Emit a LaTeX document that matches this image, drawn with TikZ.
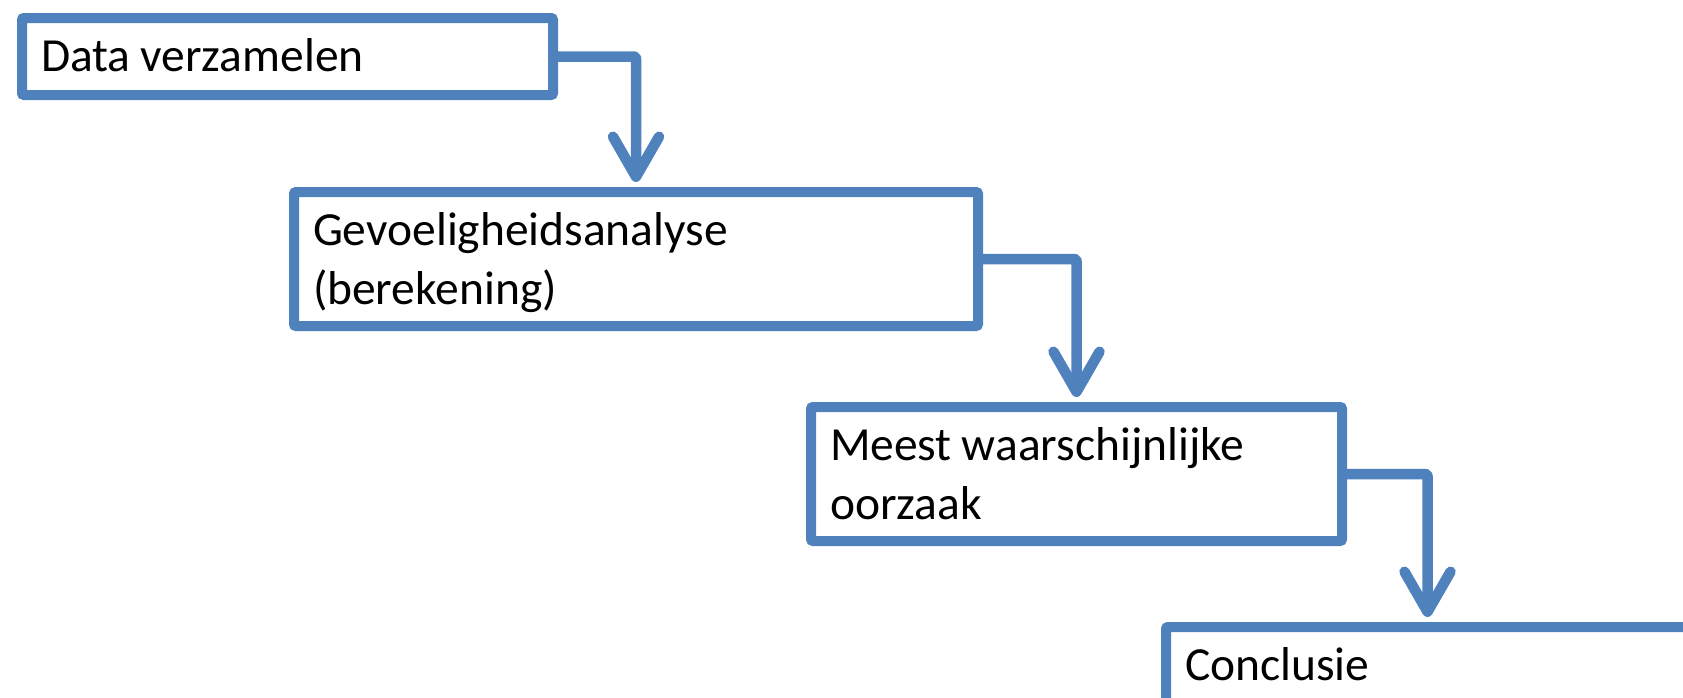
\documentclass[tikz,border=0pt]{standalone}
\usepackage{fontspec}
\setmainfont{Carlito}
\usetikzlibrary{arrows.meta}
\definecolor{flowblue}{HTML}{4F81BD}
\tikzset{
  stepbox/.style={draw=flowblue, fill=white, line width=10pt, rounded corners=2pt,
    anchor=north west, align=left, inner xsep=19pt, inner ysep=0pt,
    text height=53pt, font=\fontsize{47.5}{59}\selectfont,
    execute at begin node={\spaceskip=0.21em\relax}},
  flowarrow/.style={draw=flowblue, line width=10.5pt, line join=round, rounded corners=2pt,
    shorten >=5pt,
    -{Straight Barb[length=40pt, width=46pt, line cap=round, line join=round]}}
}
\begin{document}
\begin{tikzpicture}[x=1pt, y=-1pt]
  \useasboundingbox (0,0) rectangle (1683,697);
  \clip (0,0) rectangle (1683,697);
  \node[stepbox, text width=493pt, text depth=24pt] (b1) at (17,13) {Data verzamelen};
  \node[stepbox, text width=646pt, text depth=81pt] (b2) at (289,187) {Gevoeligheidsanalyse\\(berekening)};
  \node[stepbox, text width=493pt, text depth=81pt] (b3) at (806,402) {Meest waarschijnlijke\\oorzaak};
  \node[stepbox, text width=485pt, text depth=81pt] (b4) at (1161,622) {Conclusie};
  \draw[flowarrow] (b1.east) -| (b2.north);
  \draw[flowarrow] (b2.east) -| (b3.north);
  \draw[flowarrow] (b3.east) -| (b4.north);
\end{tikzpicture}
\end{document}
